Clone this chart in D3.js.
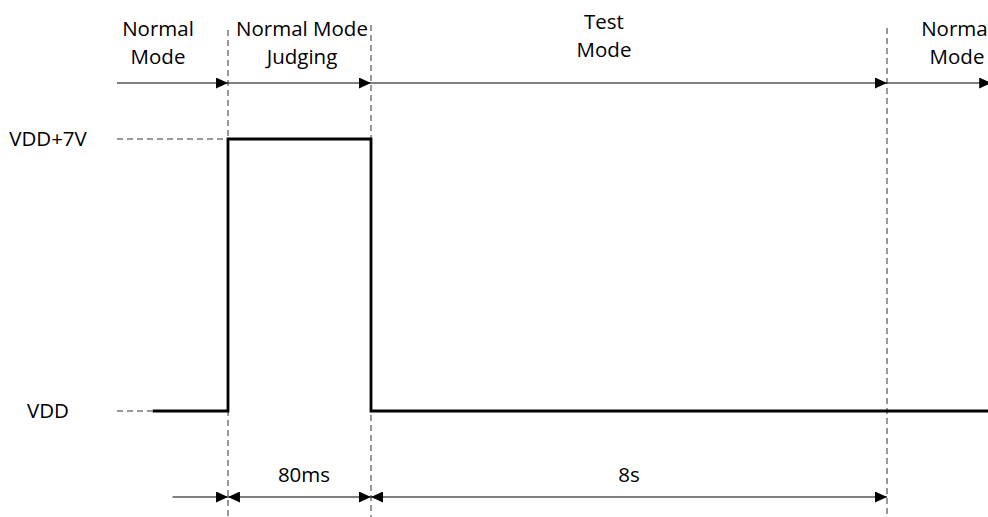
<!DOCTYPE html>
<html>
<head>
<meta charset="utf-8">
<script src="https://cdn.jsdelivr.net/npm/d3@7"></script>
<style>
  body { margin: 0; background: #fff; }
  svg text { font-family: "Open Sans", "Noto Sans", sans-serif; font-size: 20.5px; fill: #000; }
</style>
</head>
<body>
<div id="holder"></div>
<script>
// phase names across the top (one per interval)
const phases = ["Normal\nMode", "Normal Mode\nJudging", "Test\nMode", "Normal\nMode"];
// phase boundaries, ms
const boundaries = [0, 80, 8080];
// duration annotations between boundaries
const durations = [
  {from: 0, to: 80, label: "80ms"},
  {from: 80, to: 8080, label: "8s"}
];
// voltage levels (V above VDD)
const levels = [0, 7];
const levelLabels = ["VDD", "VDD+7V"];
// the pulse waveform
const signal = [
  {t: -42, v: 0}, {t: 0, v: 0}, {t: 0, v: 7},
  {t: 80, v: 7}, {t: 80, v: 0}, {t: 9700, v: 0}
];
const axisStart = -62, axisEnd = 9700, durStart = -31;

const w = 988, h = 517;

const svg = d3.select("#holder").append("svg")
  .attr("width", w).attr("height", h);

// piecewise x scale: short judging window stretched, long test mode compressed
const xScale = d3.scaleLinear()
  .domain([axisStart, 0, 80, 8080, 9650])
  .range([117, 228, 371, 887, 988]);

const yScale = d3.scaleLinear()
  .domain([0, 7])
  .range([411, 139]);

const defs = svg.append("defs");
defs.append("marker").attr("id", "arrEnd")
  .attr("viewBox", "0 0 12 11").attr("refX", 12).attr("refY", 5.5)
  .attr("markerWidth", 12).attr("markerHeight", 11).attr("markerUnits", "userSpaceOnUse")
  .attr("orient", "auto")
  .append("path").attr("d", "M0,0L12,5.5L0,11Z").attr("fill", "#000");
defs.append("marker").attr("id", "arrStart")
  .attr("viewBox", "0 0 12 11").attr("refX", 0).attr("refY", 5.5)
  .attr("markerWidth", 12).attr("markerHeight", 11).attr("markerUnits", "userSpaceOnUse")
  .attr("orient", "auto")
  .append("path").attr("d", "M12,0L0,5.5L12,11Z").attr("fill", "#000");

// vertical dashed boundary lines
const topY = [30, 25, 28];
svg.selectAll(".bound")
  .data(boundaries)
  .enter().append("line")
  .attr("class", "bound")
  .attr("x1", d => xScale(d)).attr("x2", d => xScale(d))
  .attr("y1", (d, i) => topY[i]).attr("y2", h)
  .attr("stroke", "#333").attr("stroke-width", 1)
  .attr("stroke-dasharray", "6,4");

// level reference dashes + labels
svg.selectAll(".lvl")
  .data(levels)
  .enter().append("line")
  .attr("class", "lvl")
  .attr("x1", xScale(axisStart))
  .attr("x2", d => d === 0 ? xScale(signal[0].t) : xScale(0))
  .attr("y1", d => yScale(d)).attr("y2", d => yScale(d))
  .attr("stroke", "#333").attr("stroke-width", 1)
  .attr("stroke-dasharray", "6,4");

svg.selectAll(".lvlLabel")
  .data(levels)
  .enter().append("text")
  .attr("text-anchor", "middle")
  .attr("x", 48)
  .attr("y", d => yScale(d))
  .attr("dy", "0.36em")
  .text((d, i) => levelLabels[i]);

// top phase arrows
const edges = [axisStart].concat(boundaries, [axisEnd]);
const phaseY = 83;
svg.selectAll(".phaseArrow")
  .data(d3.pairs(edges))
  .enter().append("line")
  .attr("x1", d => xScale(d[0])).attr("x2", d => xScale(d[1]))
  .attr("y1", phaseY).attr("y2", phaseY)
  .attr("stroke", "#000").attr("stroke-width", 1)
  .attr("marker-end", "url(#arrEnd)");

// phase labels
const lblCenters = [158, 302, 604, 957];
const lblTop = [28.5, 28.5, 21.5, 28.5];
phases.forEach((p, i) => {
  const t = svg.append("text").attr("text-anchor", "middle");
  p.split("\n").forEach((line, j) => {
    t.append("tspan").attr("x", lblCenters[i])
      .attr("y", lblTop[i] + j * 28.5).attr("dy", "0.36em").text(line);
  });
});

// waveform
const line = d3.line().x(d => xScale(d.t)).y(d => yScale(d.v)).curve(d3.curveLinear);
svg.append("path")
  .attr("d", line(signal))
  .attr("fill", "none").attr("stroke", "#000").attr("stroke-width", 2.8)
  .attr("stroke-linejoin", "miter");

// bottom duration arrows
const durY = 497;
svg.append("line")
  .attr("x1", xScale(durStart)).attr("x2", xScale(0))
  .attr("y1", durY).attr("y2", durY)
  .attr("stroke", "#000").attr("stroke-width", 1)
  .attr("marker-end", "url(#arrEnd)");
svg.selectAll(".dur")
  .data(durations)
  .enter().append("line")
  .attr("x1", d => xScale(d.from)).attr("x2", d => xScale(d.to))
  .attr("y1", durY).attr("y2", durY)
  .attr("stroke", "#000").attr("stroke-width", 1)
  .attr("marker-start", "url(#arrStart)")
  .attr("marker-end", "url(#arrEnd)");
const durLblX = [304, 629];
svg.selectAll(".durLbl")
  .data(durations)
  .enter().append("text")
  .attr("text-anchor", "middle")
  .attr("x", (d, i) => durLblX[i])
  .attr("y", 475).attr("dy", "0.36em")
  .text(d => d.label);
</script>
</body>
</html>
